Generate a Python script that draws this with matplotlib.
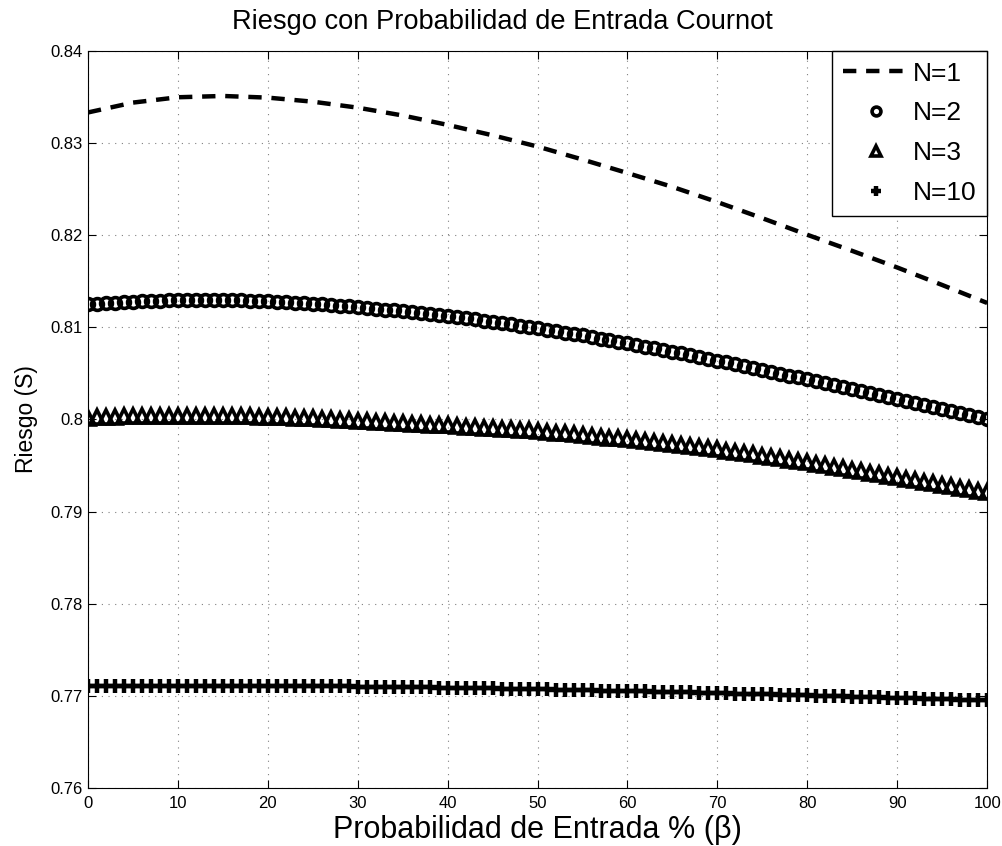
import matplotlib
matplotlib.use('Agg')
import matplotlib.pyplot as plt
import numpy as np
from matplotlib.ticker import FormatStrFormatter

plt.rcParams['font.family'] = ['Liberation Sans', 'DejaVu Sans']

# Datos
beta_linea = list(range(0, 101, 5))
riesgo_n1 = [0.83333, 0.83440, 0.83498, 0.83512, 0.83494, 0.83450, 0.83385,
             0.83300, 0.83198, 0.83085, 0.82963, 0.82822, 0.82675, 0.82525,
             0.82360, 0.82185, 0.82005, 0.81830, 0.81650, 0.81460, 0.81265]

beta = list(range(0, 101))
riesgo_n2 = [
    0.81250, 0.81257, 0.81263, 0.81269, 0.81275, 0.81280, 0.81284, 0.81288, 0.81291, 0.81293,
    0.81295, 0.81297, 0.81298, 0.81298, 0.81298, 0.81297, 0.81295, 0.81293, 0.81290, 0.81287,
    0.81284, 0.81279, 0.81274, 0.81268, 0.81262, 0.81256, 0.81249, 0.81242, 0.81235, 0.81227,
    0.81219, 0.81211, 0.81202, 0.81193, 0.81184, 0.81175, 0.81165, 0.81155, 0.81144, 0.81133,
    0.81122, 0.81110, 0.81098, 0.81086, 0.81073, 0.81060, 0.81046, 0.81032, 0.81018, 0.81004,
    0.80990, 0.80975, 0.80960, 0.80944, 0.80928, 0.80912, 0.80896, 0.80879, 0.80862, 0.80845,
    0.80828, 0.80810, 0.80792, 0.80774, 0.80756, 0.80737, 0.80718, 0.80699, 0.80680, 0.80660,
    0.80640, 0.80620, 0.80600, 0.80580, 0.80560, 0.80540, 0.80519, 0.80498, 0.80477, 0.80456,
    0.80435, 0.80414, 0.80393, 0.80372, 0.80351, 0.80330, 0.80308, 0.80286, 0.80264, 0.80242,
    0.80220, 0.80198, 0.80176, 0.80154, 0.80132, 0.80110, 0.80088, 0.80066, 0.80044, 0.80022,
    0.80000]
riesgo_n3 = [
    0.80020, 0.80023, 0.80027, 0.80030, 0.80033, 0.80035, 0.80037, 0.80039, 0.80040, 0.80041,
    0.80042, 0.80042, 0.80042, 0.80041, 0.80041, 0.80040, 0.80038, 0.80036, 0.80034, 0.80032,
    0.80030, 0.80027, 0.80023, 0.80020, 0.80016, 0.80012, 0.80007, 0.80002, 0.79996, 0.79991,
    0.79985, 0.79980, 0.79975, 0.79970, 0.79965, 0.79960, 0.79955, 0.79950, 0.79945, 0.79940,
    0.79935, 0.79929, 0.79923, 0.79917, 0.79911, 0.79905, 0.79899, 0.79893, 0.79887, 0.79881,
    0.79875, 0.79866, 0.79858, 0.79849, 0.79841, 0.79832, 0.79823, 0.79813, 0.79804, 0.79794,
    0.79785, 0.79774, 0.79764, 0.79753, 0.79743, 0.79732, 0.79721, 0.79709, 0.79698, 0.79686,
    0.79675, 0.79662, 0.79648, 0.79635, 0.79621, 0.79608, 0.79593, 0.79579, 0.79564, 0.79550,
    0.79535, 0.79519, 0.79503, 0.79487, 0.79471, 0.79455, 0.79438, 0.79422, 0.79405, 0.79389,
    0.79372, 0.79356, 0.79339, 0.79323, 0.79306, 0.79290, 0.79274, 0.79257, 0.79241, 0.79224,
    0.79208]
riesgo_n10 = [
    0.77110, 0.77110, 0.77111, 0.77111, 0.77111, 0.77111, 0.77111, 0.77111, 0.77111, 0.77110,
    0.77110, 0.77110, 0.77110, 0.77110, 0.77110, 0.77109, 0.77109, 0.77109, 0.77108, 0.77108,
    0.77108, 0.77107, 0.77107, 0.77106, 0.77106, 0.77105, 0.77104, 0.77104, 0.77103, 0.77102,
    0.77100, 0.77099, 0.77098, 0.77097, 0.77096, 0.77095, 0.77094, 0.77093, 0.77091, 0.77090,
    0.77088, 0.77087, 0.77085, 0.77084, 0.77082, 0.77081, 0.77079, 0.77077, 0.77076, 0.77074,
    0.77072, 0.77070, 0.77068, 0.77066, 0.77064, 0.77062, 0.77060, 0.77058, 0.77056, 0.77054,
    0.77052, 0.77050, 0.77048, 0.77046, 0.77043, 0.77041, 0.77039, 0.77037, 0.77034, 0.77032,
    0.77030, 0.77028, 0.77025, 0.77023, 0.77020, 0.77018, 0.77015, 0.77013, 0.77010, 0.77008,
    0.77005, 0.77002, 0.77000, 0.76997, 0.76994, 0.76992, 0.76989, 0.76986, 0.76983, 0.76981,
    0.76978, 0.76975, 0.76972, 0.76969, 0.76967, 0.76964, 0.76961, 0.76958, 0.76956, 0.76953,
    0.76950]

fig = plt.figure(figsize=(10.03, 8.46), dpi=100)
ax = fig.add_axes([0.0877, 0.0686, 0.8965, 0.8711])

ax.plot(beta_linea, riesgo_n1, color='k', lw=3.2, dashes=(3.0, 2.2),
        dash_capstyle='butt', label='N=1')
ax.plot(beta, riesgo_n2, ls='none', marker='o', ms=8.5, mfc='none', mec='k',
        mew=2.6, label='N=2')
ax.plot(beta, riesgo_n3, ls='none', marker='^', ms=9.5, mfc='none', mec='k',
        mew=2.6, label='N=3')
ax.plot(beta, riesgo_n10, ls='none', marker='+', ms=10, mec='k',
        mew=3.2, label='N=10')

ax.set_xlim(0, 100)
ax.set_ylim(0.76, 0.84)
ax.set_xticks(np.arange(0, 101, 10))
ax.set_yticks(np.arange(0.76, 0.8401, 0.01))
ax.yaxis.set_major_formatter(FormatStrFormatter('%g'))
ax.tick_params(direction='in', top=True, right=True, labelsize=12, length=6)
ax.tick_params(axis='x', pad=6)
ax.grid(True, color='0.5', lw=0.8, dashes=(1, 5))

ax.set_title('Riesgo con Probabilidad de Entrada Cournot', fontsize=19.6,
             pad=16, x=0.461)
ax.set_xlabel('Probabilidad de Entrada % (β)', fontsize=22, labelpad=3)
ax.set_ylabel('Riesgo (S)', fontsize=16.5, labelpad=9)

leg = ax.legend(loc='upper right', fontsize=19, fancybox=False, framealpha=1,
                edgecolor='k', borderaxespad=0, handlelength=2.5,
                handletextpad=0.15, labelspacing=0.6, markerscale=0.75,
                borderpad=0.4)
leg.get_frame().set_linewidth(1)

plt.savefig('out.png', dpi=100)
